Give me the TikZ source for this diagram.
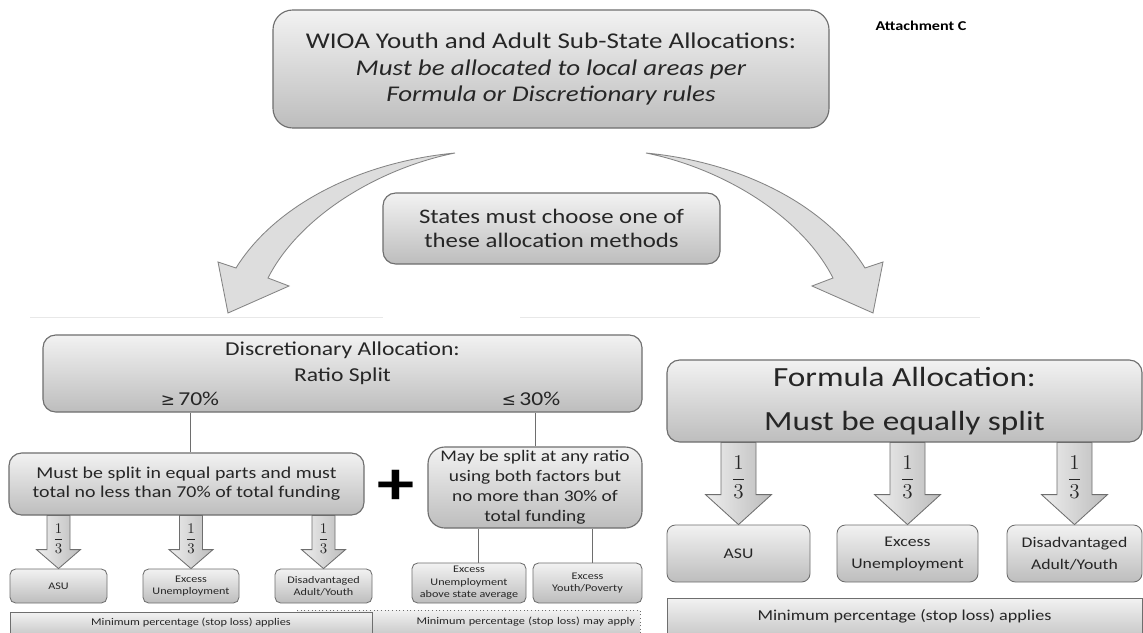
\RequirePackage{fix-cm}
\documentclass[tikz,border=0pt]{standalone}
\usepackage{fontspec}
\setmainfont{Carlito}[FakeStretch=1.2]
\newfontfamily\cmpfont{DejaVu Sans}
\usetikzlibrary{positioning, calc}
\definecolor{Ink}{HTML}{262626}
\definecolor{Edge}{HTML}{6E6E6E}
\definecolor{BoxTop}{HTML}{F2F2F2}
\definecolor{BoxBottom}{HTML}{BDBDBD}
\definecolor{ArrowFill}{HTML}{DDDDDD}
\definecolor{Faint}{HTML}{E8E8E8}
\tikzset{
    boxsize/.style 2 args={minimum width=#1*0.025cm, minimum height=#2*0.025cm},
    greybox/.style={rectangle, rounded corners=9pt, draw=Edge, line width=0.8pt, top color=BoxTop, bottom color=BoxBottom, text=Ink, align=center, inner sep=0pt},
    smallbox/.style={greybox, rounded corners=4pt, line width=0.6pt},
    barbox/.style={rectangle, draw=Edge, line width=0.6pt, top color=BoxTop, bottom color=BoxBottom!80!white, text=Ink, align=center, inner sep=0pt},
    plaintext/.style={text=Ink, align=center, inner sep=0pt},
    link/.style={draw=Edge, line width=0.6pt},
    thirdarrow/.style={draw=Edge, line width=0.6pt, left color=ArrowFill!50!white, right color=ArrowFill!85!black},
    bigarrow/.style={draw=Edge!85, line width=0.6pt, fill=ArrowFill},
    faintline/.style={draw=Faint, line width=0.5pt},
    thirdsmall/.style={text=Ink, inner sep=0pt, font=\fontsize{10.5}{10.5}\selectfont},
    thirdbig/.style={text=Ink, inner sep=0pt, font=\fontsize{15}{15}\selectfont},
}
% freccia a blocco con 1/3: da, a, mezza asta, mezza punta, lunghezza punta, stile
\newcommand{\splitarrow}[6]{%
    \coordinate (#2-top) at (#1.south -| #2.north);
    \coordinate (#2-neck) at ($(#2.north)+(0,-#5)$);
    \draw[thirdarrow] ($(#2-top)+(-#3,0)$) -- ($(#2-neck)+(-#3,0)$) -- ($(#2-neck)+(-#4,0)$) -- (#2.north) -- ($(#2-neck)+(#4,0)$) -- ($(#2-neck)+(#3,0)$) -- ($(#2-top)+(#3,0)$) -- cycle;
    \node[#6] (#2-frac) at ($(#2-top)!0.67!(#2-neck)$) {$\displaystyle\frac{1}{3}$};
}

\begin{document}
\begin{tikzpicture}[x=0.025cm, y=-0.025cm]
    \useasboundingbox (0,0) rectangle (1143,632);
    \fill[white] (0,0) rectangle (1143,632);

    % Riquadro principale
    \node[greybox, boxsize={556}{118}, rounded corners=14pt, font=\fontsize{16}{18.5}\selectfont] (wioa) at (551,69) {WIOA Youth and Adult Sub-State Allocations:\\ \textit{Must be allocated to local areas per}\\ \textit{Formula or Discretionary rules}};
    \node[font=\bfseries\fontsize{9.6}{11}\selectfont, text=black] (attach) at (921,26) {Attachment C};

    % Scelta del metodo
    \node[greybox, boxsize={337}{71}, font=\fontsize{14.7}{17}\selectfont] (choose) at (551.5,228.5) {States must choose one of\\these allocation methods};

    % Frecce curve
    \draw[bigarrow] (455,153) .. controls (360,162) and (275,205) .. (236,268) -- (218,262) -- (228,313) -- (289,286) -- (268,278) .. controls (300,215) and (380,168) .. (455,153) -- cycle;
    \begin{scope}[shift={(1101,0)}, xscale=-1]
        \draw[bigarrow] (455,153) .. controls (360,162) and (275,205) .. (236,268) -- (218,262) -- (228,313) -- (289,286) -- (268,278) .. controls (300,215) and (380,168) .. (455,153) -- cycle;
    \end{scope}
    \draw[faintline] (30,317) -- (383,317) (520,317) -- (980,317);

    % Ripartizione discrezionale
    \node[greybox, boxsize={599}{77}] (disc) at (342.5,373.5) {};
    \node[plaintext, font=\fontsize{14}{18.4}\selectfont] (disctitle) at (342.5,363) {Discretionary Allocation:\\Ratio Split};
    \node[plaintext, font=\fontsize{14}{16}\selectfont] (ge70) at (190,399) {{\cmpfont\fontsize{12}{12}\selectfont ≥}\,70\%};
    \node[plaintext, font=\fontsize{14}{16}\selectfont] (le30) at (531,399) {{\cmpfont\fontsize{12}{12}\selectfont ≤}\,30\%};

    \node[greybox, boxsize={355}{62}, font=\fontsize{11.8}{13.5}\selectfont] (equal) at (186.5,484) {Must be split in equal parts and must\\total no less than 70\% of total funding};
    \node[font=\bfseries\fontsize{44}{44}\selectfont, text=black] (plus) at (396,487) {+};
    \node[greybox, boxsize={214}{81}, rounded corners=12pt, font=\fontsize{11.5}{14.2}\selectfont] (anyratio) at (535,487.5) {May be split at any ratio\\using both factors but\\no more than 30\% of\\total funding};

    \draw[link] (ge70 |- disc.south) -- (ge70 |- equal.north);
    \draw[link] (anyratio.north) -- (anyratio.north |- disc.south);

    % Caselle (discrezionale)
    \node[smallbox, boxsize={97}{34}, font=\fontsize{7.2}{8.9}\selectfont] (asuD) at (58.5,586) {ASU};
    \node[smallbox, boxsize={96}{34}, font=\fontsize{7.2}{8.9}\selectfont] (unempD) at (191,586) {Excess\\Unemployment};
    \node[smallbox, boxsize={97}{34}, font=\fontsize{7.2}{8.9}\selectfont] (disadvD) at (323.5,586) {Disadvantaged\\Adult/Youth};
    \node[smallbox, boxsize={114}{40}, font=\fontsize{7.2}{8.9}\selectfont] (aboveavg) at (469,583) {Excess\\Unemployment\\above state average};
    \node[smallbox, boxsize={109}{40}, font=\fontsize{7.2}{8.9}\selectfont] (poverty) at (587.5,583) {Excess\\Youth/Poverty};

    \splitarrow{equal}{asuD}{11.5}{22}{19}{thirdsmall}
    \splitarrow{equal}{unempD}{11.5}{22}{19}{thirdsmall}
    \splitarrow{equal}{disadvD}{11.5}{22}{19}{thirdsmall}

    \coordinate (forkA) at ($(aboveavg.north)+(9,0)$);
    \coordinate (forkB) at ($(poverty.north)+(4.5,0)$);
    \draw[link] (forkA) -- (forkA |- anyratio.south);
    \draw[link] (forkB) -- (forkB |- anyratio.south);

    % Stop loss (discrezionale)
    \node[barbox, dotted, minimum height=24*0.025cm, text width=333*0.025cm, inner xsep=5*0.025cm, align=right, font=\fontsize{7.3}{8.9}\selectfont] (mayapply) at (468.5,622) {Minimum percentage (stop loss) may apply};
    \node[barbox, boxsize={362}{22}, font=\fontsize{7.3}{8.9}\selectfont] (applies) at (191,623) {Minimum percentage (stop loss) applies};

    % Ripartizione per formula
    \node[greybox, boxsize={475}{82}, font=\fontsize{19.7}{31}\selectfont] (formula) at (904.5,401) {Formula Allocation:\\Must be equally split};

    \node[smallbox, boxsize={143}{57}, rounded corners=6pt, font=\fontsize{10.5}{15.6}\selectfont] (asuF) at (738.5,553.5) {ASU};
    \node[smallbox, boxsize={141}{57}, rounded corners=6pt, font=\fontsize{10.5}{15.6}\selectfont] (unempF) at (907.5,553.5) {Excess\\Unemployment};
    \node[smallbox, boxsize={135}{57}, rounded corners=6pt, font=\fontsize{10.5}{15.6}\selectfont] (disadvF) at (1074.5,553.5) {Disadvantaged\\Adult/Youth};

    \splitarrow{formula}{asuF}{17.5}{33}{30}{thirdbig}
    \splitarrow{formula}{unempF}{17.5}{33}{30}{thirdbig}
    \splitarrow{formula}{disadvF}{17.5}{33}{30}{thirdbig}

    % Stop loss (formula)
    \node[barbox, boxsize={475}{36}, font=\fontsize{10.75}{13}\selectfont] (appliesF) at (904.5,616) {Minimum percentage (stop loss) applies};
\end{tikzpicture}
\end{document}
